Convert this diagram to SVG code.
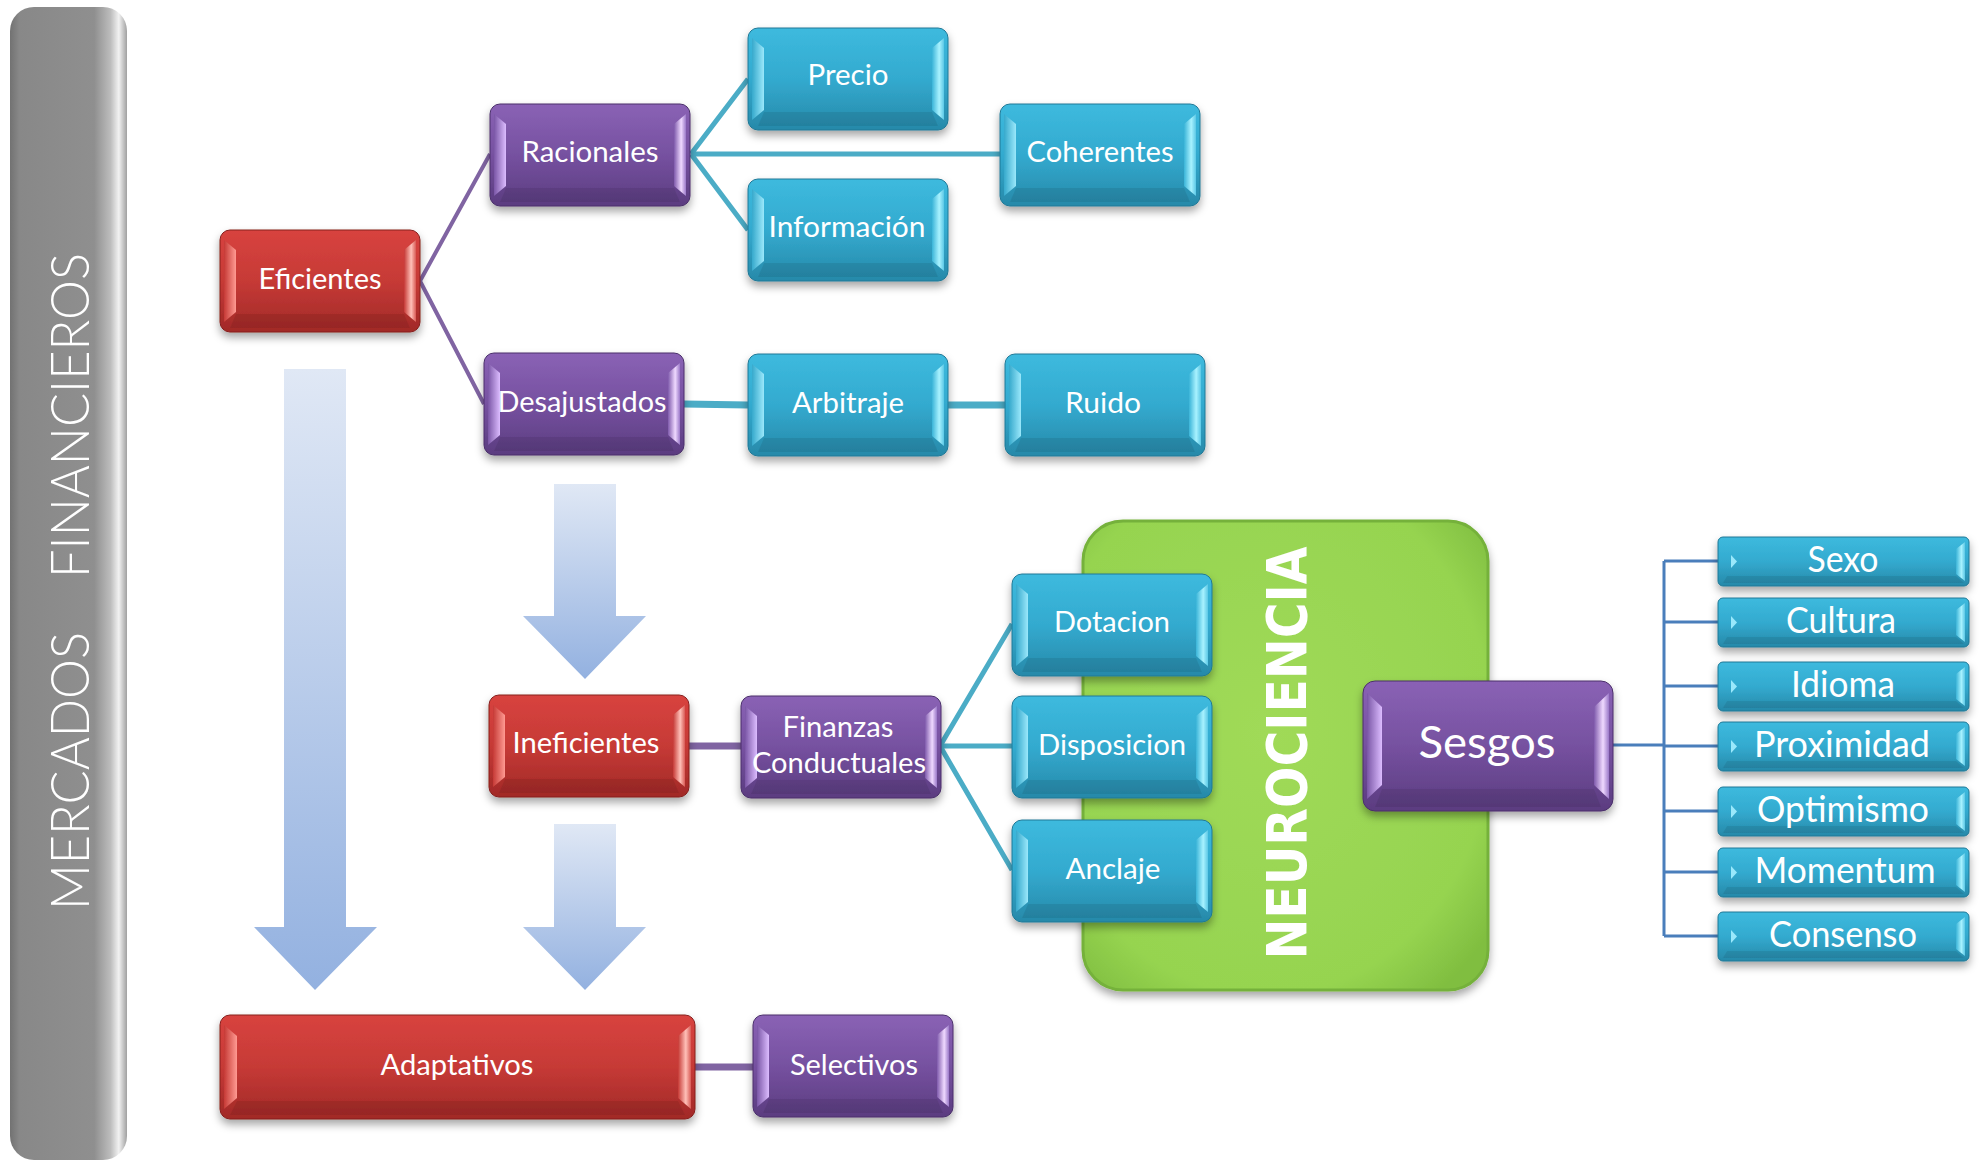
<svg xmlns="http://www.w3.org/2000/svg" xmlns:xlink="http://www.w3.org/1999/xlink" width="1982" height="1164" viewBox="0 0 1982 1164">
  <style>
    .lbl { font-family: Lato, "Liberation Sans", sans-serif; fill: #ffffff; text-anchor: middle; font-size: 29px; }
    .big { font-size: 44px; }
    .item { font-size: 36px; }
    .side { font-family: Lato, "Open Sans", "Liberation Sans", sans-serif; font-weight: 300; fill: #ffffff; font-size: 54px; }
    .neuro { font-family: "DejaVu Sans", "Liberation Sans", sans-serif; font-weight: bold; fill: #ffffff; font-size: 56px; text-anchor: middle; }
    .c-purple { stroke: #8064a2; fill: none; }
    .c-cyan { stroke: #4bacc6; fill: none; }
    .c-blue { stroke: #4a7ebb; fill: none; stroke-width: 3; }
  </style>
  <defs>
    <filter id="sh" x="-10%" y="-15%" width="125%" height="145%">
      <feDropShadow dx="0" dy="5" stdDeviation="4" flood-color="#000" flood-opacity="0.35"/>
    </filter>
    <linearGradient id="g-cyan" x1="0" y1="0" x2="0" y2="1">
      <stop offset="0" stop-color="#3dbade"/>
      <stop offset="0.5" stop-color="#33aacf"/>
      <stop offset="1" stop-color="#2789a9"/>
    </linearGradient>
    <linearGradient id="g-purple" x1="0" y1="0" x2="0" y2="1">
      <stop offset="0" stop-color="#8a62b5"/>
      <stop offset="0.5" stop-color="#7651a0"/>
      <stop offset="1" stop-color="#5b3c80"/>
    </linearGradient>
    <linearGradient id="g-red" x1="0" y1="0" x2="0" y2="1">
      <stop offset="0" stop-color="#d8433f"/>
      <stop offset="0.5" stop-color="#c63a36"/>
      <stop offset="1" stop-color="#a12927"/>
    </linearGradient>
    <linearGradient id="lb-cyan" x1="0" y1="0" x2="1" y2="0">
      <stop offset="0" stop-color="#36a9cc"/>
      <stop offset="1" stop-color="#9ae8fb"/>
    </linearGradient>
    <linearGradient id="rb-cyan" x1="0" y1="0" x2="1" y2="0">
      <stop offset="0" stop-color="#3ab4d8"/>
      <stop offset="0.6" stop-color="#a8f2ff"/>
      <stop offset="1" stop-color="#5cc8e6"/>
    </linearGradient>
    <linearGradient id="lb-purple" x1="0" y1="0" x2="1" y2="0">
      <stop offset="0" stop-color="#7a56a6"/>
      <stop offset="1" stop-color="#dcbcff"/>
    </linearGradient>
    <linearGradient id="rb-purple" x1="0" y1="0" x2="1" y2="0">
      <stop offset="0" stop-color="#7f5aac"/>
      <stop offset="0.6" stop-color="#efd9ff"/>
      <stop offset="1" stop-color="#9a78c8"/>
    </linearGradient>
    <linearGradient id="lb-red" x1="0" y1="0" x2="1" y2="0">
      <stop offset="0" stop-color="#c63a36"/>
      <stop offset="1" stop-color="#ff9a92"/>
    </linearGradient>
    <linearGradient id="rb-red" x1="0" y1="0" x2="1" y2="0">
      <stop offset="0" stop-color="#c63a36"/>
      <stop offset="0.6" stop-color="#ffc0b8"/>
      <stop offset="1" stop-color="#d85a54"/>
    </linearGradient>
    <linearGradient id="g-arrow" x1="0" y1="0" x2="0" y2="1">
      <stop offset="0" stop-color="#e0e8f5"/>
      <stop offset="1" stop-color="#93b1e0"/>
    </linearGradient>
    <linearGradient id="g-bar" x1="0" y1="0" x2="1" y2="0">
      <stop offset="0" stop-color="#727272"/>
      <stop offset="0.08" stop-color="#888888"/>
      <stop offset="0.72" stop-color="#8f8f8f"/>
      <stop offset="0.86" stop-color="#bdbdbd"/>
      <stop offset="0.93" stop-color="#f2f2f2"/>
      <stop offset="1" stop-color="#a0a0a0"/>
    </linearGradient>
    <radialGradient id="g-green" cx="0.45" cy="0.45" r="0.7">
      <stop offset="0" stop-color="#a0da58"/>
      <stop offset="0.8" stop-color="#96d450"/>
      <stop offset="1" stop-color="#80be40"/>
    </radialGradient>

    <!-- bevelled 200x102 boxes -->
    <g id="bx-cyan">
      <rect width="200" height="102" rx="10" fill="url(#g-cyan)" stroke="#1f7896" stroke-width="1"/>
      <polygon points="4,10 16,20 16,82 4,92" fill="url(#lb-cyan)"/>
      <polygon points="196,10 184,20 184,82 196,92" fill="url(#rb-cyan)"/>
      <polygon points="10,98 16,84 184,84 190,98" fill="#000" opacity="0.08"/>
    </g>
    <g id="bx-purple">
      <rect width="200" height="102" rx="10" fill="url(#g-purple)" stroke="#4a2f6a" stroke-width="1"/>
      <polygon points="4,10 16,20 16,82 4,92" fill="url(#lb-purple)"/>
      <polygon points="196,10 184,20 184,82 196,92" fill="url(#rb-purple)"/>
      <polygon points="10,98 16,84 184,84 190,98" fill="#000" opacity="0.08"/>
    </g>
    <g id="bx-red">
      <rect width="200" height="102" rx="10" fill="url(#g-red)" stroke="#861f1d" stroke-width="1"/>
      <polygon points="4,10 16,20 16,82 4,92" fill="url(#lb-red)"/>
      <polygon points="196,10 184,20 184,82 196,92" fill="url(#rb-red)"/>
      <polygon points="10,98 16,84 184,84 190,98" fill="#000" opacity="0.08"/>
    </g>
    <!-- small list item 251x49 -->
    <g id="bx-item">
      <rect width="251" height="49" rx="5" fill="url(#g-cyan)" stroke="#1f7896" stroke-width="1"/>
      <polygon points="247,5 238,12 238,37 247,44" fill="url(#rb-cyan)"/>
      <polygon points="13,18 19,24.5 13,31" fill="#9ae8fb"/>
      <polygon points="5,46 9,39 238,39 246,46" fill="#000" opacity="0.08"/>
    </g>
  </defs>

  <rect width="1982" height="1164" fill="#ffffff"/>

  <!-- side band -->
  <g id="n-mercados">
    <rect x="10" y="7" width="117" height="1153" rx="24" fill="url(#g-bar)"/>
    <text class="side" transform="translate(89,910) rotate(-90)" textLength="278" lengthAdjust="spacingAndGlyphs">MERCADOS</text>
    <text class="side" transform="translate(89,578) rotate(-90)" textLength="325" lengthAdjust="spacingAndGlyphs">FINANCIEROS</text>
  </g>

  <!-- block arrows -->
  <g id="arrows">
    <polygon points="284,369 346,369 346,927 377,927 315,990 254,927 284,927" fill="url(#g-arrow)"/>
    <polygon points="554,484 616,484 616,616 646,616 585,679 523,616 554,616" fill="url(#g-arrow)"/>
    <polygon points="554,824 616,824 616,927 646,927 585,990 523,927 554,927" fill="url(#g-arrow)"/>
  </g>

  <!-- green neuroscience panel -->
  <g id="n-neurociencia">
    <rect x="1083" y="521" width="405" height="469" rx="40" fill="url(#g-green)" stroke="#74b13a" stroke-width="3" filter="url(#sh)"/>
    <text class="neuro" transform="translate(1306,753) rotate(-90)" textLength="413" lengthAdjust="spacingAndGlyphs">NEUROCIENCIA</text>
  </g>

  <!-- connectors -->
  <g id="connectors">
    <path class="c-purple" stroke-width="4" d="M420,281 L490,154 M420,281 L484,404"/>
    <path class="c-cyan" stroke-width="5" d="M691,154 L748,79 M691,154 L1000,154 M691,154 L748,230"/>
    <path class="c-cyan" stroke-width="7" d="M684,404 L748,405 M948,405 L1005,405"/>
    <path class="c-purple" stroke-width="7" d="M689,746 L741,746"/>
    <path class="c-cyan" stroke-width="5" d="M940,746 L1012,624 M940,746 L1012,746 M940,746 L1012,870"/>
    <path class="c-purple" stroke-width="7" d="M695,1067 L753,1067"/>
    <path class="c-blue" stroke-width="5" d="M1613,745 L1664,745"/>
    <path class="c-blue" d="M1664,561 L1664,936 M1664,561 L1718,561 M1664,622 L1718,622 M1664,686 L1718,686 M1664,746 L1718,746 M1664,811 L1718,811 M1664,872 L1718,872 M1664,936 L1718,936"/>
  </g>

  <!-- nodes -->
  <g id="n-eficientes" transform="translate(220,230)">
    <use href="#bx-red" filter="url(#sh)"/>
    <text class="lbl" x="100" y="59" textLength="123" lengthAdjust="spacingAndGlyphs">Eficientes</text>
  </g>
  <g id="n-racionales" transform="translate(490,104)">
    <use href="#bx-purple" filter="url(#sh)"/>
    <text class="lbl" x="100" y="58" textLength="137" lengthAdjust="spacingAndGlyphs">Racionales</text>
  </g>
  <g id="n-desajustados" transform="translate(484,353)">
    <use href="#bx-purple" filter="url(#sh)"/>
    <text class="lbl" x="98" y="59" textLength="169" lengthAdjust="spacingAndGlyphs">Desajustados</text>
  </g>
  <g id="n-precio" transform="translate(748,28)">
    <use href="#bx-cyan" filter="url(#sh)"/>
    <text class="lbl" x="100" y="57" textLength="81" lengthAdjust="spacingAndGlyphs">Precio</text>
  </g>
  <g id="n-informacion" transform="translate(748,179)">
    <use href="#bx-cyan" filter="url(#sh)"/>
    <text class="lbl" x="99" y="58" textLength="157" lengthAdjust="spacingAndGlyphs">Información</text>
  </g>
  <g id="n-coherentes" transform="translate(1000,104)">
    <use href="#bx-cyan" filter="url(#sh)"/>
    <text class="lbl" x="100" y="58" textLength="147" lengthAdjust="spacingAndGlyphs">Coherentes</text>
  </g>
  <g id="n-arbitraje" transform="translate(748,354)">
    <use href="#bx-cyan" filter="url(#sh)"/>
    <text class="lbl" x="100" y="59" textLength="112" lengthAdjust="spacingAndGlyphs">Arbitraje</text>
  </g>
  <g id="n-ruido" transform="translate(1005,354)">
    <use href="#bx-cyan" filter="url(#sh)"/>
    <text class="lbl" x="98" y="59" textLength="76" lengthAdjust="spacingAndGlyphs">Ruido</text>
  </g>
  <g id="n-ineficientes" transform="translate(489,695)">
    <use href="#bx-red" filter="url(#sh)"/>
    <text class="lbl" x="97" y="58" textLength="147" lengthAdjust="spacingAndGlyphs">Ineficientes</text>
  </g>
  <g id="n-finanzas" transform="translate(741,696)">
    <use href="#bx-purple" filter="url(#sh)"/>
    <text class="lbl" x="97" y="41" textLength="111" lengthAdjust="spacingAndGlyphs">Finanzas</text>
    <text class="lbl" x="98" y="77" textLength="174" lengthAdjust="spacingAndGlyphs">Conductuales</text>
  </g>
  <g id="n-dotacion" transform="translate(1012,574)">
    <use href="#bx-cyan" filter="url(#sh)"/>
    <text class="lbl" x="100" y="58" textLength="116" lengthAdjust="spacingAndGlyphs">Dotacion</text>
  </g>
  <g id="n-disposicion" transform="translate(1012,696)">
    <use href="#bx-cyan" filter="url(#sh)"/>
    <text class="lbl" x="100" y="59" textLength="148" lengthAdjust="spacingAndGlyphs">Disposicion</text>
  </g>
  <g id="n-anclaje" transform="translate(1012,820)">
    <use href="#bx-cyan" filter="url(#sh)"/>
    <text class="lbl" x="101" y="59" textLength="95" lengthAdjust="spacingAndGlyphs">Anclaje</text>
  </g>
  <g id="n-adaptativos" transform="translate(220,1015)">
    <g filter="url(#sh)">
      <rect width="475" height="104" rx="10" fill="url(#g-red)" stroke="#861f1d" stroke-width="1"/>
      <polygon points="4,10 17,21 17,83 4,94" fill="url(#lb-red)"/>
      <polygon points="471,10 458,21 458,83 471,94" fill="url(#rb-red)"/>
      <polygon points="10,100 17,86 458,86 465,100" fill="#000" opacity="0.08"/>
    </g>
    <text class="lbl" x="237" y="60" textLength="153" lengthAdjust="spacingAndGlyphs">Adaptativos</text>
  </g>
  <g id="n-selectivos" transform="translate(753,1015)">
    <use href="#bx-purple" filter="url(#sh)"/>
    <text class="lbl" x="101" y="60" textLength="128" lengthAdjust="spacingAndGlyphs">Selectivos</text>
  </g>
  <g id="n-sesgos" transform="translate(1363,681)">
    <g filter="url(#sh)">
      <rect width="250" height="130" rx="12" fill="url(#g-purple)" stroke="#4a2f6a" stroke-width="1"/>
      <polygon points="4,12 19,26 19,104 4,118" fill="url(#lb-purple)"/>
      <polygon points="246,12 231,26 231,104 246,118" fill="url(#rb-purple)"/>
      <polygon points="12,126 19,108 231,108 238,126" fill="#000" opacity="0.08"/>
    </g>
    <text class="lbl big" x="124" y="77" textLength="137" lengthAdjust="spacingAndGlyphs">Sesgos</text>
  </g>

  <!-- bias list -->
  <g id="n-sexo" transform="translate(1718,537)">
    <use href="#bx-item" filter="url(#sh)"/>
    <text class="lbl item" x="125" y="35" textLength="71" lengthAdjust="spacingAndGlyphs">Sexo</text>
  </g>
  <g id="n-cultura" transform="translate(1718,598)">
    <use href="#bx-item" filter="url(#sh)"/>
    <text class="lbl item" x="123" y="35" textLength="110" lengthAdjust="spacingAndGlyphs">Cultura</text>
  </g>
  <g id="n-idioma" transform="translate(1718,662)">
    <use href="#bx-item" filter="url(#sh)"/>
    <text class="lbl item" x="125" y="35" textLength="104" lengthAdjust="spacingAndGlyphs">Idioma</text>
  </g>
  <g id="n-proximidad" transform="translate(1718,722)">
    <use href="#bx-item" filter="url(#sh)"/>
    <text class="lbl item" x="124" y="35" textLength="176" lengthAdjust="spacingAndGlyphs">Proximidad</text>
  </g>
  <g id="n-optimismo" transform="translate(1718,787)">
    <use href="#bx-item" filter="url(#sh)"/>
    <text class="lbl item" x="125" y="35" textLength="172" lengthAdjust="spacingAndGlyphs">Optimismo</text>
  </g>
  <g id="n-momentum" transform="translate(1718,848)">
    <use href="#bx-item" filter="url(#sh)"/>
    <text class="lbl item" x="127" y="35" textLength="181" lengthAdjust="spacingAndGlyphs">Momentum</text>
  </g>
  <g id="n-consenso" transform="translate(1718,912)">
    <use href="#bx-item" filter="url(#sh)"/>
    <text class="lbl item" x="125" y="35" textLength="148" lengthAdjust="spacingAndGlyphs">Consenso</text>
  </g>
</svg>
